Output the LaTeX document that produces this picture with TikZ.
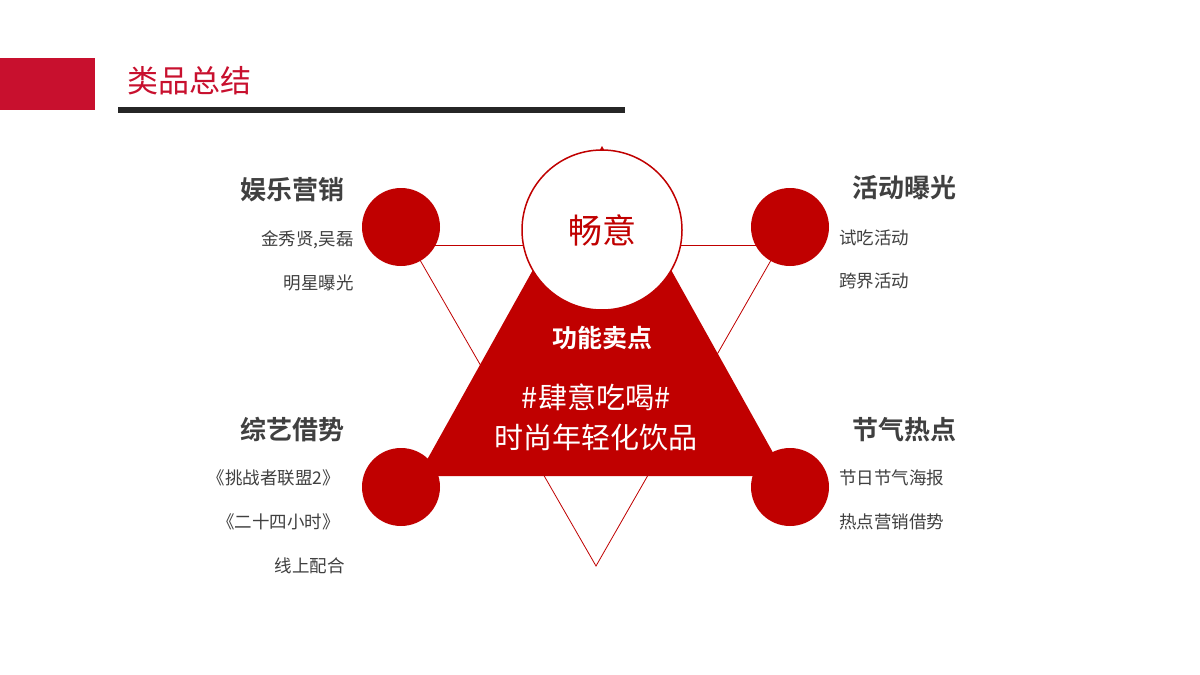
\documentclass[tikz,border=0pt]{standalone}
\usepackage{fontspec}
\setmainfont{Noto Sans CJK SC}
\newfontfamily\cjkb{Noto Sans CJK SC Bold}
\definecolor{mred}{HTML}{C00000}
\definecolor{hred}{HTML}{C8102E}
\definecolor{tgray}{HTML}{404040}
\begin{document}
\begin{tikzpicture}[x=1pt,y=-1pt,
  dot/.style={circle,fill=mred,minimum size=78pt,inner sep=0pt},
  thin/.style={draw=mred,line width=0.8pt},
  head/.style={font=\cjkb\fontsize{26}{30}\selectfont,text=tgray,inner sep=0pt},
  sub/.style={font=\fontsize{17.5}{20}\selectfont,text=tgray,inner sep=0pt}]
\useasboundingbox (0,0) rectangle (1200,675);
\fill[white] (0,0) rectangle (1200,675);
% header
\fill[hred] (0,58) rectangle (95,110);
\fill[black!85] (118,107) rectangle (625,113);
\node[anchor=west,inner sep=0pt,text=hred,font=\fontsize{31}{34}\selectfont] (title) at (127,81) {类品总结};
% anchors
\coordinate (bot) at (596,566);
\coordinate (tlc) at (401,227);
\coordinate (trc) at (790,227);
\coordinate (blc) at (401,487);
\coordinate (brc) at (790,487);
% thin lines
\draw[thin] (tlc) -- (bot) -- (trc);
\draw[thin] (401,245) -- (790,245);
% filled triangle
\fill[mred] (602,146) -- (418,476) -- (786,476) -- cycle;
% circles
\node[dot] (tl) at (tlc) {};
\node[dot] (tr) at (trc) {};
\node[dot] (bl) at (blc) {};
\node[dot] (br) at (brc) {};
\node[circle,draw=mred,line width=1.5pt,fill=white,minimum size=160pt,inner sep=0pt,text=mred,font=\fontsize{34}{38}\selectfont] (top) at (602,230) {畅意};
% centre texts
\node[text=white,font=\cjkb\fontsize{25}{30}\selectfont,inner sep=0pt] (fn) at (602,338) {功能卖点};
\node[text=white,font=\fontsize{29}{40}\selectfont,align=center,inner sep=0pt] (slog) at (596,417) {\#肆意吃喝\#\\时尚年轻化饮品};
% side texts
\node[head,anchor=east] (h1) at (345,190) {娱乐营销};
\node[sub,anchor=east] (s11) at (354,240) {金秀贤,吴磊};
\node[sub,anchor=east] (s12) at (354,283) {明星曝光};
\node[head,anchor=west] (h2) at (852,188) {活动曝光};
\node[sub,anchor=west] (s21) at (839,238) {试吃活动};
\node[sub,anchor=west] (s22) at (839,281) {跨界活动};
\node[head,anchor=east] (h3) at (345,430) {综艺借势};
\node[sub,anchor=east] (s31) at (340,478) {《挑战者联盟2》};
\node[sub,anchor=east] (s32) at (340,522) {《二十四小时》};
\node[sub,anchor=east] (s33) at (345,566) {线上配合};
\node[head,anchor=west] (h4) at (852,430) {节气热点};
\node[sub,anchor=west] (s41) at (839,478) {节日节气海报};
\node[sub,anchor=west] (s42) at (839,522) {热点营销借势};
\end{tikzpicture}
\end{document}
